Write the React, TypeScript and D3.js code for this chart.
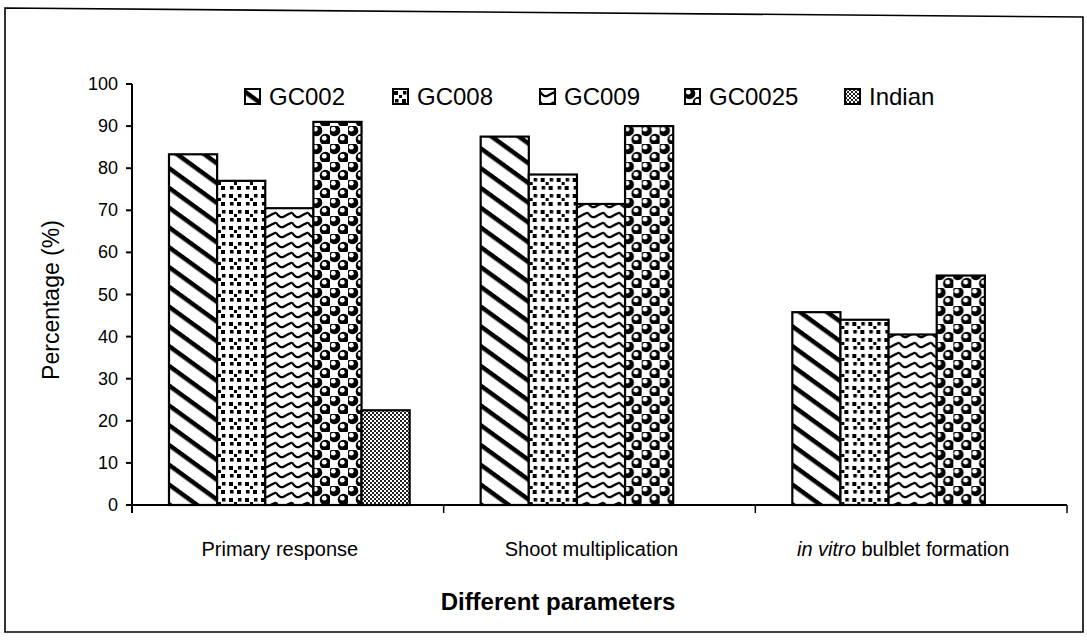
import React from 'react';
import * as d3 from 'd3';

// data
const categories = ['Primary response', 'Shoot multiplication', 'in vitro bulblet formation'];
const seriesNames = ['GC002', 'GC008', 'GC009', 'GC0025', 'Indian'];
const gc002 = [83.3, 87.5, 45.8];
const gc008 = [77, 78.5, 44];
const gc009 = [70.5, 71.5, 40.5];
const gc0025 = [91, 90, 54.5];
const indian = [22.5, 0, 0];
const seriesValues = [gc002, gc008, gc009, gc0025, indian];
const yTicks = [0, 10, 20, 30, 40, 50, 60, 70, 80, 90, 100];

const W = 1087;
const H = 640;
const plot = { left: 132, right: 1067, top: 84, bottom: 505 };
const legendX = [245, 393, 540, 685, 845];
const patternIds = ['pGC002', 'pGC008', 'pGC009', 'pGC0025', 'pIndian'];
const font = '"Liberation Sans", Arial, sans-serif';

const x0 = d3.scaleBand<string>()
  .domain(categories)
  .range([plot.left, plot.right])
  .paddingInner(0)
  .paddingOuter(0);

const groupPad = 37; // gap between group edge and first bar
const x1 = d3.scaleBand<string>()
  .domain(seriesNames)
  .range([groupPad, x0.bandwidth() - groupPad + 3])
  .padding(0);

const y = d3.scaleLinear().domain([0, 100]).range([plot.bottom, plot.top]);

const Patterns = () => (
  <defs>
    {/* diagonal thick stripes */}
    <pattern id="pGC002" width="16" height="16" patternUnits="userSpaceOnUse" patternTransform="rotate(36)">
      <rect width="16" height="16" fill="#fff" />
      <rect x="0" y="0" width="16" height="4.5" fill="#000" />
    </pattern>
    {/* scattered small squares */}
    <pattern id="pGC008" width="16" height="16" patternUnits="userSpaceOnUse">
      <rect width="16" height="16" fill="#fff" />
      <rect x="1" y="2" width="4" height="4" fill="#000" />
      <rect x="9" y="10" width="4" height="4" fill="#000" />
      <rect x="10" y="2" width="3.5" height="3.5" fill="#000" />
      <rect x="2" y="10" width="3.5" height="3.5" fill="#000" />
      <rect x="6" y="6" width="3" height="3" fill="#000" />
    </pattern>
    {/* wavy zigzag */}
    <pattern id="pGC009" width="16" height="10" patternUnits="userSpaceOnUse">
      <rect width="16" height="10" fill="#fff" />
      <path d="M0,2.5 Q4,9 8,6.5 Q12,4 16,2.5" fill="none" stroke="#000" strokeWidth="2.2" />
    </pattern>
    {/* balls */}
    <pattern id="pGC0025" width="18" height="18" patternUnits="userSpaceOnUse">
      <rect width="18" height="18" fill="#fff" />
      <circle cx="4.5" cy="4.5" r="5.8" fill="#000" />
      <circle cx="13.5" cy="13.5" r="5.8" fill="#000" />
      <circle cx="3.3" cy="3.2" r="2.4" fill="#fff" />
      <circle cx="12.3" cy="12.2" r="2.4" fill="#fff" />
    </pattern>
    {/* fine checker halftone */}
    <pattern id="pIndian" width="4" height="4" patternUnits="userSpaceOnUse">
      <rect width="4" height="4" fill="#fff" />
      <rect x="0" y="0" width="2" height="2" fill="#222" />
      <rect x="2" y="2" width="2" height="2" fill="#222" />
    </pattern>
  </defs>
);

export default function App() {
  return (
    <svg width={W} height={H} style={{ display: 'block', position: 'absolute', left: 0, top: 0, background: '#fff' }}>
      <Patterns />
      <rect width={W} height={H} fill="#fff" />
      {/* outer frame, slightly skewed as in the scan */}
      <path d="M5,8 L1083,17 L1083,632 L5,632 Z" fill="none" stroke="#000" strokeWidth="1.6" />

      {/* bars */}
      {categories.map((c, ci) => (
        <g key={c} transform={`translate(${x0(c)},0)`}>
          {seriesNames.map((s, si) => {
            const v = seriesValues[si][ci];
            if (!v) return null;
            return (
              <rect
                key={s}
                x={x1(s)}
                y={y(v)}
                width={x1.bandwidth()}
                height={y(0) - y(v)}
                fill={`url(#${patternIds[si]})`}
                stroke="#000"
                strokeWidth="2.2"
              />
            );
          })}
        </g>
      ))}

      {/* y axis */}
      <line x1={plot.left} x2={plot.left} y1={y(100)} y2={y(0) + 8} stroke="#000" strokeWidth="2" />
      {yTicks.map(t => (
        <g key={t}>
          <line x1={plot.left - 6} x2={plot.left} y1={y(t)} y2={y(t)} stroke="#000" strokeWidth="2" />
          <text x={plot.left - 14} y={y(t) + 6} textAnchor="end" fontFamily={font} fontSize="18">{t}</text>
        </g>
      ))}

      {/* x axis */}
      <line x1={plot.left - 6} x2={plot.right} y1={y(0)} y2={y(0)} stroke="#000" strokeWidth="2" />
      {categories.map((c, i) => (
        <line key={'t' + i} x1={x0(c)} x2={x0(c)} y1={y(0)} y2={y(0) + 8} stroke="#000" strokeWidth="1.5" />
      ))}
      <line x1={plot.right} x2={plot.right} y1={y(0)} y2={y(0) + 8} stroke="#000" strokeWidth="1.5" />

      {/* category labels */}
      {categories.map((c, i) => (
        <text key={c} x={x0(c)! + x0.bandwidth() / 2 - 8} y={556} textAnchor="middle" fontFamily={font} fontSize="20">
          {i === 2 ? (
            <>
              <tspan fontStyle="italic">in vitro</tspan>
              <tspan>{'  bulblet formation'}</tspan>
            </>
          ) : c}
        </text>
      ))}

      {/* axis titles */}
      <text x={558} y={610} textAnchor="middle" fontFamily={font} fontSize="24" fontWeight="bold">Different parameters</text>
      <text transform="translate(51,300) rotate(-90)" textAnchor="middle" dominantBaseline="central" fontFamily={font} fontSize="23">Percentage (%)</text>

      {/* legend */}
      {seriesNames.map((s, i) => (
        <g key={s} transform={`translate(${legendX[i]},89)`}>
          <rect x="0" y="0" width="15" height="15" fill={`url(#${patternIds[i]})`} stroke="#000" strokeWidth="2" />
          <text x="24" y="16" fontFamily={font} fontSize="24">{s}</text>
        </g>
      ))}
    </svg>
  );
}
